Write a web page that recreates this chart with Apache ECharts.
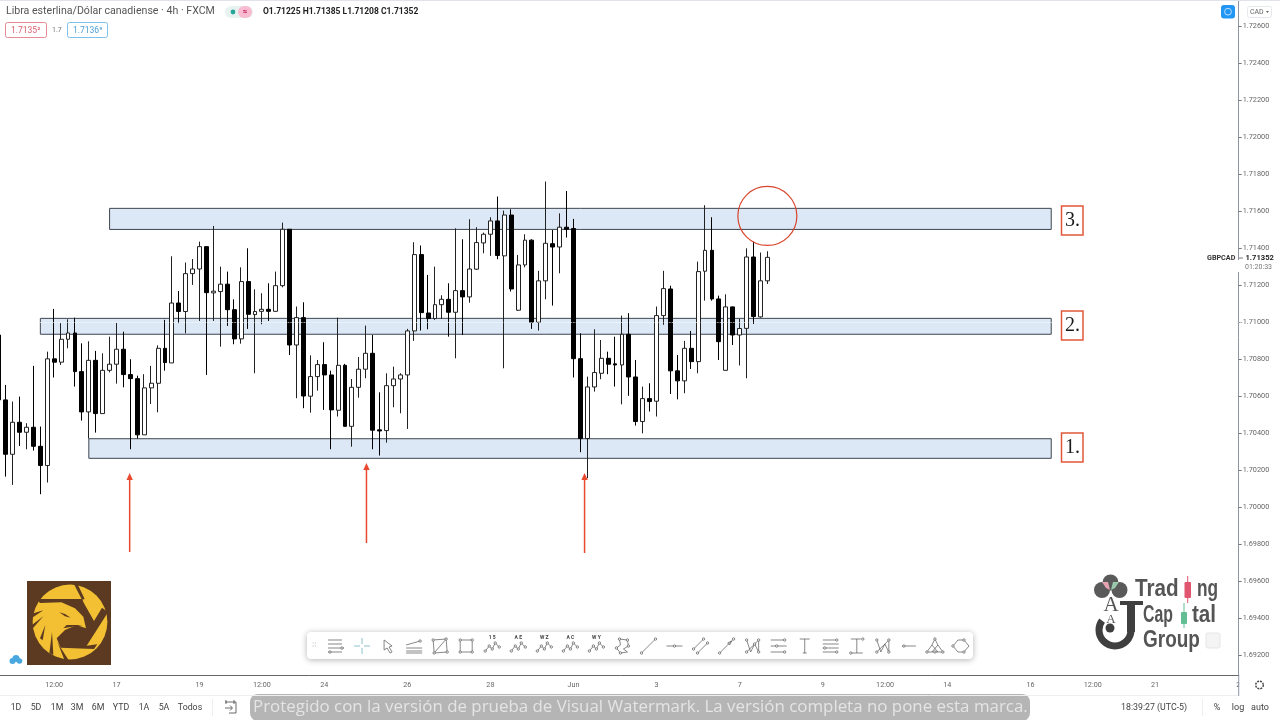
<!DOCTYPE html>
<html>
<head>
<meta charset="utf-8">
<title>GBPCAD 4h</title>
<script src="https://cdn.jsdelivr.net/npm/echarts@6/dist/echarts.min.js"></script>
<style>html,body{margin:0;background:#fff}#chart{width:1280px;height:720px}</style>
</head>
<body>
<div id="chart"></div>
<script>
// velas de 4h
const openP = [
  1.70932,1.70581,1.70287,1.70460,1.70406,1.70433,1.70330,1.70226,1.70803,1.70785,
  1.70909,1.70943,1.70734,1.70516,1.70795,1.70507,1.70741,1.70774,1.70855,1.70718,
  1.70696,1.70392,1.70646,1.70671,1.70860,1.70781,1.71105,1.71059,1.71264,1.71289,
  1.71410,1.71160,1.71167,1.71207,1.71069,1.70911,1.71221,1.71042,1.71060,1.71071,
  1.71060,1.71199,1.71504,1.70878,1.71026,1.70601,1.70707,1.70772,1.70716,1.70525,
  1.70768,1.70438,1.70649,1.70747,1.70833,1.70419,1.70415,1.70658,1.70694,1.70716,
  1.70954,1.71367,1.71051,1.71021,1.71096,1.71125,1.71055,1.71172,1.71138,1.71288,
  1.71430,1.71477,1.71549,1.71360,1.71581,1.71066,1.71311,1.71445,1.71001,1.71225,
  1.71426,1.71408,1.71515,1.71508,1.70804,1.70372,1.70651,1.70725,1.70806,1.70776,
  1.70770,1.70936,1.70705,1.70464,1.70588,1.70574,1.71037,1.71181,1.70738,1.70684,
  1.70860,1.70788,1.71277,1.71390,1.71127,1.70741,1.71084,1.70932,1.70968,1.71354,1.71030,1.71225
];
const closeP = [
  1.70581,1.70287,1.70460,1.70406,1.70433,1.70330,1.70226,1.70803,1.70785,1.70909,
  1.70943,1.70734,1.70516,1.70795,1.70507,1.70741,1.70774,1.70855,1.70718,1.70696,
  1.70392,1.70646,1.70671,1.70860,1.70783,1.71105,1.71059,1.71264,1.71289,1.71410,
  1.71161,1.71169,1.71207,1.71069,1.70911,1.71221,1.71044,1.71059,1.71071,1.71060,
  1.71199,1.71504,1.70878,1.71026,1.70602,1.70707,1.70772,1.70716,1.70527,1.70768,
  1.70438,1.70649,1.70747,1.70833,1.70417,1.70413,1.70658,1.70694,1.70716,1.70954,
  1.71367,1.71053,1.71021,1.71096,1.71125,1.71055,1.71172,1.71138,1.71289,1.71432,
  1.71477,1.71549,1.71362,1.71581,1.71181,1.71311,1.71445,1.71001,1.71225,1.71428,
  1.71408,1.71515,1.71504,1.70804,1.70372,1.70651,1.70729,1.70806,1.70774,1.70770,
  1.70936,1.70705,1.70464,1.70588,1.70572,1.71037,1.71183,1.70738,1.70684,1.70860,
  1.70788,1.71275,1.71390,1.71127,1.70896,1.71084,1.70932,1.70967,1.71354,1.71032,1.71225,1.71352
];
const lowP = [
  1.70450,1.70166,1.70121,1.70332,1.70314,1.70307,1.70071,1.70134,1.70702,1.70770,
  1.70860,1.70653,1.70469,1.70372,1.70404,1.70507,1.70730,1.70669,1.70649,1.70314,
  1.70372,1.70392,1.70559,1.70514,1.70739,1.70781,1.70996,1.70941,1.71203,1.71008,
  1.70716,1.71008,1.70869,1.70981,1.70882,1.70885,1.70965,1.70725,1.70990,1.71008,
  1.71059,1.71190,1.70824,1.70590,1.70536,1.70512,1.70631,1.70527,1.70314,1.70491,
  1.70437,1.70328,1.70593,1.70698,1.70314,1.70280,1.70350,1.70541,1.70509,1.70424,
  1.70900,1.70956,1.70963,1.71014,1.71019,1.70923,1.70806,1.70932,1.71107,1.71284,
  1.71374,1.71360,1.71342,1.70752,1.71167,1.71062,1.71298,1.70965,1.70956,1.71125,
  1.71091,1.71266,1.71459,1.70702,1.70298,1.70157,1.70626,1.70693,1.70720,1.70653,
  1.70557,1.70603,1.70442,1.70400,1.70518,1.70491,1.70987,1.70613,1.70584,1.70617,
  1.70748,1.70725,1.71118,1.71118,1.70797,1.70739,1.70878,1.70767,1.70698,1.70992,1.71026,1.71208
];
const highP = [
  1.71000,1.70662,1.70572,1.70599,1.70455,1.70765,1.70437,1.70842,1.71073,1.70996,
  1.71017,1.71026,1.70887,1.70898,1.70846,1.70833,1.70923,1.70997,1.70950,1.70801,
  1.70712,1.70720,1.70765,1.70876,1.71014,1.71358,1.71170,1.71324,1.71343,1.71437,
  1.71410,1.71522,1.71302,1.71275,1.71125,1.71298,1.71401,1.71179,1.71158,1.71212,
  1.71275,1.71540,1.71504,1.71086,1.71109,1.70822,1.70797,1.70893,1.70739,1.71026,
  1.70776,1.70694,1.70813,1.70983,1.70932,1.70622,1.70725,1.70761,1.70725,1.70965,
  1.71434,1.71416,1.71257,1.71302,1.71147,1.71212,1.71509,1.71450,1.71558,1.71515,
  1.71486,1.71569,1.71681,1.71605,1.71612,1.71365,1.71477,1.71450,1.71279,1.71762,
  1.71500,1.71590,1.71711,1.71560,1.70941,1.70707,1.70963,1.70905,1.70842,1.70923,
  1.71037,1.71050,1.70797,1.70653,1.70671,1.71086,1.71279,1.71199,1.70824,1.70900,
  1.70954,1.71329,1.71634,1.71569,1.71145,1.71152,1.71086,1.71019,1.71401,1.71437,1.71378,1.71385
];
const lastPrice = 1.71352;

// eje de tiempo
const barCount = 180;
const xTickIdx = [8,17,29,38,47,59,71,83,95,107,119,128,137,149,158,167,179];
const xTickText = ['12:00','17','19','12:00','24','26','28','Jun','3','7','9','12:00','14','16','12:00','21','2'];
const yTicks = [1.692,1.694,1.696,1.698,1.700,1.702,1.704,1.706,1.708,1.710,1.712,1.714,1.716,1.718,1.720,1.722,1.724,1.726];

// zonas 1, 2, 3
const zoneStart = [13, 6, 16];
const zoneEnd = [152, 152, 152];
const zoneTop = [1.70371, 1.71022, 1.71617];
const zoneBottom = [1.70265, 1.70936, 1.71503];

// flechas rojas y circulo
const arrowIdx = [18.9, 53.1, 84.6];
const arrowTail = [1.69758, 1.69807, 1.69753];
const arrowTip = [1.70186, 1.70240, 1.70186];
const circleIdx = 111;
const circlePrice = 1.71576;

const categories = [];
for (let i = 0; i < barCount; i++) categories.push(String(i));
const candles = openP.map((o, i) => [o, closeP[i], lowP[i], highP[i]]);
const showTick = i => xTickIdx.indexOf(i) >= 0;

const UI = 'Roboto, sans-serif';
function txt(x, y, text, size, fill, weight, align, family) {
  return { type: 'text', x: x, y: y, z: 100, silent: true, style: {
    text: text, fill: fill || '#555', align: align || 'left', verticalAlign: 'middle',
    font: (weight || 'normal') + ' ' + size + 'px ' + (family || UI)
  } };
}
function box(x, y, w, h, stroke, fill, r, lw) {
  return { type: 'rect', z: 99, silent: true, shape: { x: x, y: y, width: w, height: h, r: r || 0 },
    style: { stroke: stroke || 'none', fill: fill || 'none', lineWidth: lw || 1 } };
}
function line(x1, y1, x2, y2, stroke, lw) {
  return { type: 'line', z: 100, silent: true, shape: { x1: x1, y1: y1, x2: x2, y2: y2 }, style: { stroke: stroke, lineWidth: lw || 1 } };
}
function poly(pts, fill) {
  return { type: 'polygon', z: 101, silent: true, shape: { points: pts }, style: { fill: fill } };
}
function circ(x, y, r, fill, z) {
  return { type: 'circle', z: z || 100, silent: true, shape: { cx: x, cy: y, r: r }, style: { fill: fill } };
}
// iconos: M L H V Z para trazos, N para un nodo pequeno
function icon(d, ox, oy, stroke, lw) {
  const els = [];
  let pts = null, x = 0, y = 0;
  const flush = () => {
    if (pts && pts.length > 1) els.push({ type: 'polyline', x: ox, y: oy, z: 100, silent: true, shape: { points: pts }, style: { fill: 'none', stroke: stroke, lineWidth: lw } });
    pts = null;
  };
  d.replace(/([MLHVZN])([^MLHVZN]*)/g, (m, c, args) => {
    const n = args.trim().split(/\s+/).map(Number);
    if (c === 'M') { flush(); x = n[0]; y = n[1]; pts = [[x, y]]; }
    else if (c === 'L') { x = n[0]; y = n[1]; pts.push([x, y]); }
    else if (c === 'H') { x = n[0]; pts.push([x, y]); }
    else if (c === 'V') { y = n[0]; pts.push([x, y]); }
    else if (c === 'Z') { pts.push(pts[0]); }
    else if (c === 'N') {
      flush();
      els.push({ type: 'circle', x: ox, y: oy, z: 101, silent: true, shape: { cx: n[0], cy: n[1], r: 1.2 }, style: { fill: '#fff', stroke: stroke, lineWidth: lw } });
    }
    return m;
  });
  flush();
  return els;
}

// cabecera
const header = [
  line(0, 0.5, 1280, 0.5, '#e0e3eb'),
  txt(6, 11.5, 'Libra esterlina/Dólar canadiense · 4h · FXCM', 10.6, '#555'),
  box(225, 6, 28, 12, null, '#e8f3f1', 6),
  { type: 'rect', z: 100, silent: true, shape: { x: 238, y: 6, width: 14, height: 12, r: 6 }, style: { fill: '#f8bbd0' } },
  circ(233, 12, 2.4, '#26a69a', 101),
  txt(245, 11.5, '≈', 8, '#c2185b', 'bold', 'center'),
  txt(263, 12, 'O1.71225 H1.71385 L1.71208 C1.71352', 8.5, '#222', 'bold'),
  box(5.5, 22.5, 41, 15, '#e58b94', '#fff', 2),
  txt(11, 30.5, '1.7135²', 8.5, '#d9606b'),
  txt(52, 30.5, '1.7', 7, '#777'),
  box(67.5, 22.5, 40, 15, '#7fc1ee', '#fff', 2),
  txt(73, 30.5, '1.7136⁹', 8.5, '#4a9fd8')
];

// esquina derecha y etiquetas de precio
const rightSide = [
  box(1239.2, 674, 41, 22, null, '#fff'),
  line(1238.7, 675, 1238.7, 696, '#8e96a6'),
  box(1221, 5, 14, 13.5, null, '#2196f3', 3),
  { type: 'circle', z: 101, silent: true, shape: { cx: 1228, cy: 11.7, r: 3.4 }, style: { fill: 'none', stroke: '#bfe0fb', lineWidth: 1 } },
  box(1247.5, 6.5, 24, 11, '#e6e8ee', '#fff', 2),
  txt(1250, 12, 'CAD', 7, '#666'),
  poly([[1266, 11], [1269, 11], [1267.5, 13]], '#666'),
  box(1205, 252, 32, 12, null, '#fff'),
  box(1238, 260, 40, 12, null, '#fff'),
  txt(1207, 258.5, 'GBPCAD', 7.2, '#333', 'bold'),
  line(1239, 258, 1243, 258, '#777'),
  txt(1245.5, 258, '1.71352', 7.6, '#222', 'bold'),
  txt(1245, 267, '01:20:33', 7, '#777')
];

// recuadros con numero de zona
const zoneLabels = [
  [206, '3.'], [311, '2.'], [433, '1.']
].reduce((acc, b) => acc.concat([
  box(1061.5, b[0], 21.5, 29, '#e2573a', '#fff', 0, 1.5),
  txt(1072.5, b[0] + 15, b[1], 20, '#1a1a1a', 'normal', 'center', '"Liberation Serif", serif')
]), []);

// barra inferior
const bottomBar = [
  line(0, 695.5, 1238, 695.5, '#eceef2')
].concat(
  [['1D', 16], ['5D', 36], ['1M', 57], ['3M', 77], ['6M', 98], ['YTD', 121], ['1A', 144], ['5A', 164], ['Todos', 190]]
    .map(b => txt(b[1], 707.5, b[0], 8.8, '#444', 'normal', 'center')),
  [
    line(212.5, 699, 212.5, 716, '#eceef2')
  ],
  icon('M225 702H236V713H229M225 708H232M230 705.5L232.5 708L230 710.5M226 700V704M234 700V704', 0, 0, '#444', 0.8),
  [
    box(250, 694, 780, 27, null, '#b5b5b5', 8),
    txt(253, 707.5, 'Protegido con la versión de prueba de Visual Watermark. La versión completa no pone esta marca.', 16.9, '#e4e4e4', 'normal', 'left', '"Open Sans", sans-serif'),
    txt(1121, 707.5, '18:39:27 (UTC-5)', 8.8, '#444'),
    line(1202.5, 699, 1202.5, 716, '#eceef2'),
    txt(1217, 707.5, '%', 9, '#444', 'normal', 'center'),
    txt(1238, 707.5, 'log', 9, '#444', 'normal', 'center'),
    txt(1260, 707.5, 'auto', 9, '#444', 'normal', 'center'),
    { type: 'circle', z: 100, silent: true, shape: { cx: 1259.5, cy: 685, r: 3.8 }, style: { fill: 'none', stroke: '#444', lineWidth: 1.4, lineDash: [2, 1] } }
  ]
);

// barra de herramientas
const wave = 'M-7 5L-3 0L0 3L3 -3L7 1N-7 5N-3 0N0 3N3 -3N7 1';
const toolIcons = [
  'M-8 -6H6M-8 -2H6M-8 2H8M-8 6H6N6 2N-6 6',
  'M-8 0H-2M2 0H8M0 -8V-2M0 2V8',
  'M-4 -6L-4 4L-1 2L2 7L4 6L1 1L4 0Z',
  'M-8 -1L6 -5M-8 2H8M-8 5H8M-8 7H8N6 -5',
  'M-7 -6L6 -7L7 6L-6 7ZM-6 7L6 -7N-7 -6N6 -7N7 6N-6 7',
  'M-6 -6H6V6H-6ZN-6 -6N6 -6N6 6N-6 6',
  wave, wave, wave, wave, wave,
  'M-3 -7L5 -6L6 0L1 3L5 6L-2 7L-6 2L-2 -1ZN-3 -7N5 -6N6 0N-6 2N-2 7',
  'M-7 7L7 -7N-7 7N7 -7',
  'M-8 0H8N0 0',
  'M-7 3L3 -7M-3 7L7 -3N-7 3N3 -7N-3 7N7 -3',
  'M-7 7L6 -6N-7 7N7 -7M1 -3L5 -5L3 -1Z',
  'M-6 -6L-2 6L2 -2L6 6L6 -6L-6 6N-6 -6N6 -6N6 6N-6 6N2 -2',
  'M-8 -6H6M-8 0H8M-8 6H6N6 -6N-2 0N6 6',
  'M-5 -7H5M0 -7V7M-2 7H2',
  'M-8 -6H6M-8 -2H8M-8 2H8M-8 6H6N6 -6N6 6N-6 2',
  'M-6 -7H4M0 -7V7M-6 7H6N6 -7N-6 7',
  'M-6 -6L-2 6L2 -2L6 6L6 -6L-6 6N-6 -6N6 -6N6 6N-6 6',
  'M-7 0H7N-5 0',
  'M-8 6L-3 -1L0 -7L3 -1L8 6M-8 6H8M-3 -1L3 6M3 -1L-3 6N-8 6N0 -7N8 6N0 6',
  'M-8 0L-3 -6H3L8 0L3 6H-3ZN-8 0N3 -6N3 6'
];
const waveTags = { 6: '1 5', 7: 'A E', 8: 'W Z', 9: 'A C', 10: 'W Y' };
let toolbar = [
  { type: 'rect', z: 98, silent: true, shape: { x: 307, y: 632, width: 666, height: 27, r: 4 },
    style: { fill: '#fff', shadowBlur: 6, shadowColor: 'rgba(0,0,0,0.3)', shadowOffsetY: 1 } },
  txt(312, 645, '⁞⁞', 8, '#ccc')
];
toolIcons.forEach((d, i) => {
  const cx = 336 + i * 26.04;
  toolbar = toolbar.concat(icon(d, cx, 646, i === 1 ? '#5aa9b5' : '#555', 0.7));
  if (waveTags[i]) toolbar.push(txt(cx, 638, waveTags[i], 5, '#444', 'bold', 'center'));
});

// logos
const gold = '#f2c032', brown = '#5c3a21';
const eg = pts => poly(pts.map(p => [20 + p[0] / 3, 575 + p[1] / 3]), brown);
const eagleLogo = [
  box(27, 581, 84, 84, null, brown),
  { type: 'circle', z: 100, silent: true, shape: { cx: 70, cy: 622, r: 37.4 }, style: { fill: gold } },
  eg([[50, 72], [186, 72], [190, 80], [124, 82], [60, 84]]),
  eg([[162, 28], [174, 30], [194, 72], [186, 74]]),
  eg([[186, 74], [222, 138], [246, 98], [264, 112], [200, 212], [232, 208], [222, 222], [122, 218], [110, 190], [135, 165], [170, 150], [198, 160], [190, 125], [165, 100], [124, 82]]),
  eg([[112, 200], [122, 218], [150, 262], [136, 262]]),
  eg([[36, 116], [70, 106], [40, 126]]),
  eg([[36, 150], [70, 124], [40, 158]]),
  eg([[60, 190], [76, 150], [68, 196]]),
  eg([[88, 235], [96, 170], [100, 240]]),
  eg([[118, 112], [135, 117], [152, 128], [135, 124]]),
  eg([[130, 160], [188, 150], [140, 150]]),
  circ(15.5, 659, 10, '#fff', 99),
  circ(12.5, 661, 3, '#4aa8e0'), circ(16, 658.5, 3.6, '#4aa8e0'), circ(19.5, 661, 2.8, '#4aa8e0')
];
const logoFont = '"Liberation Sans", sans-serif';
function logoWord(x, y, word, sx) {
  return Object.assign(txt(x, y, word, 24, '#555', 'bold', 'left', logoFont), { scaleX: sx });
}
const tradingLogo = [
  circ(1110.5, 582.5, 8, '#5a5a5a'), circ(1102, 590, 8, '#5a5a5a'), circ(1119.5, 590, 8, '#5a5a5a'),
  poly([[1102, 582], [1108, 582], [1110, 590], [1106, 588]], '#e7a4b0'),
  poly([[1119, 582], [1113, 582], [1111, 590], [1115, 588]], '#9ac9ab'),
  txt(1111, 605, 'A', 21, '#555', 'normal', 'center', '"Liberation Serif", serif'),
  txt(1111, 620, 'A', 13, '#555', 'normal', 'center', '"Liberation Serif", serif'),
  { type: 'rect', z: 100, silent: true, shape: { x: 1127, y: 602, width: 8, height: 30 }, style: { fill: '#3f3f3f' } },
  { type: 'rect', z: 100, silent: true, shape: { x: 1120, y: 601, width: 23, height: 4 }, style: { fill: '#3f3f3f' } },
  { type: 'arc', z: 100, silent: true, shape: { cx: 1115, cy: 630, r: 16, startAngle: 0, endAngle: Math.PI * 1.2, clockwise: true }, style: { fill: 'none', stroke: '#3f3f3f', lineWidth: 7 } },
  circ(1110, 628, 4.5, '#3f3f3f'),
  logoWord(1135, 589, 'Trad', 0.86),
  box(1184.5, 582, 6.5, 16, null, '#e0566f', 1),
  line(1187.7, 576, 1187.7, 603, '#e0566f'),
  logoWord(1197, 589, 'ng', 0.72),
  logoWord(1143, 615, 'Cap', 0.66),
  box(1181, 612, 6, 12, null, '#62bf94', 1),
  line(1184, 603, 1184, 628, '#62bf94'),
  logoWord(1192, 615, 'tal', 0.86),
  logoWord(1143, 640, 'Group', 0.79),
  box(1206, 633, 14, 15, '#e5e5e5', '#f4f4f4', 2)
];

const chartDom = document.getElementById('chart');
const myChart = echarts.init(chartDom);

const option = {
  animation: false,
  backgroundColor: '#fff',
  grid: { left: -4.66, top: 0, width: 1246.3, height: 675, outerBoundsMode: 'none' },
  xAxis: {
    type: 'category',
    data: categories,
    boundaryGap: true,
    axisLine: { lineStyle: { color: '#666', width: 1 } },
    axisTick: { alignWithLabel: true, length: 3, interval: showTick, lineStyle: { color: '#666' } },
    axisLabel: {
      interval: showTick,
      formatter: (v, i) => xTickText[xTickIdx.indexOf(i)],
      color: '#666', fontSize: 7.2, fontFamily: UI, margin: 7
    },
    splitLine: { show: false }
  },
  yAxis: {
    type: 'value',
    position: 'right',
    offset: -2.94,
    min: 1.69093,
    max: 1.72744,
    axisLine: { show: true, lineStyle: { color: '#8e96a6' } },
    axisTick: { show: true, length: 3, customValues: yTicks, lineStyle: { color: '#777' } },
    axisLabel: { customValues: yTicks, formatter: v => v.toFixed(5), color: '#666', fontSize: 7.3, fontFamily: UI, margin: 4, padding: [6, 0, 0, 0] },
    splitLine: { show: false }
  },
  series: [
    {
      // zonas por debajo de las velas
      type: 'custom',
      z: 1,
      silent: true,
      clip: false,
      data: zoneStart.map((s, i) => i),
      renderItem: (params, api) => {
        const i = params.dataIndex;
        const a = api.coord([zoneStart[i], zoneTop[i]]);
        const b = api.coord([zoneEnd[i], zoneBottom[i]]);
        return { type: 'rect', shape: { x: a[0], y: a[1], width: b[0] - a[0], height: b[1] - a[1] },
          style: { fill: '#dce8f6', stroke: '#3f4650', lineWidth: 1 } };
      }
    },
    {
      type: 'candlestick',
      z: 2,
      barWidth: 4.4,
      data: candles,
      itemStyle: { color: '#fff', color0: '#000', borderColor: '#222', borderColor0: '#000', borderWidth: 1 },
      markLine: {
        silent: true,
        symbol: 'none',
        label: { show: false },
        lineStyle: { color: '#fff', type: 'dotted', width: 0.8 },
        data: [{ yAxis: lastPrice }]
      }
    },
    {
      // flechas rojas
      type: 'custom',
      z: 3,
      silent: true,
      clip: false,
      data: arrowIdx.map((s, i) => i),
      renderItem: (params, api) => {
        const i = params.dataIndex;
        const whole = Math.floor(arrowIdx[i]);
        const dx = (arrowIdx[i] - whole) * api.size([1, 0])[0];
        const tail = api.coord([whole, arrowTail[i]]);
        const tip = api.coord([whole, arrowTip[i]]);
        const x = tail[0] + dx;
        return { type: 'group', children: [
          { type: 'line', shape: { x1: x, y1: tail[1], x2: x, y2: tip[1] + 6 }, style: { stroke: '#e8492f', lineWidth: 1.5 } },
          { type: 'polygon', shape: { points: [[x, tip[1]], [x - 3.2, tip[1] + 7], [x + 3.2, tip[1] + 7]] }, style: { fill: '#e8492f' } }
        ] };
      }
    },
    {
      // circulo rojo
      type: 'custom',
      z: 3,
      silent: true,
      clip: false,
      data: [0],
      renderItem: (params, api) => {
        const c = api.coord([circleIdx, circlePrice]);
        return { type: 'circle', shape: { cx: c[0], cy: c[1], r: 29.5 }, style: { fill: 'none', stroke: '#d9452c', lineWidth: 1.2 } };
      }
    }
  ],
  graphic: { elements: [].concat(header, rightSide, zoneLabels, bottomBar, toolbar, eagleLogo, tradingLogo) }
};

myChart.setOption(option);
</script>
</body>
</html>
